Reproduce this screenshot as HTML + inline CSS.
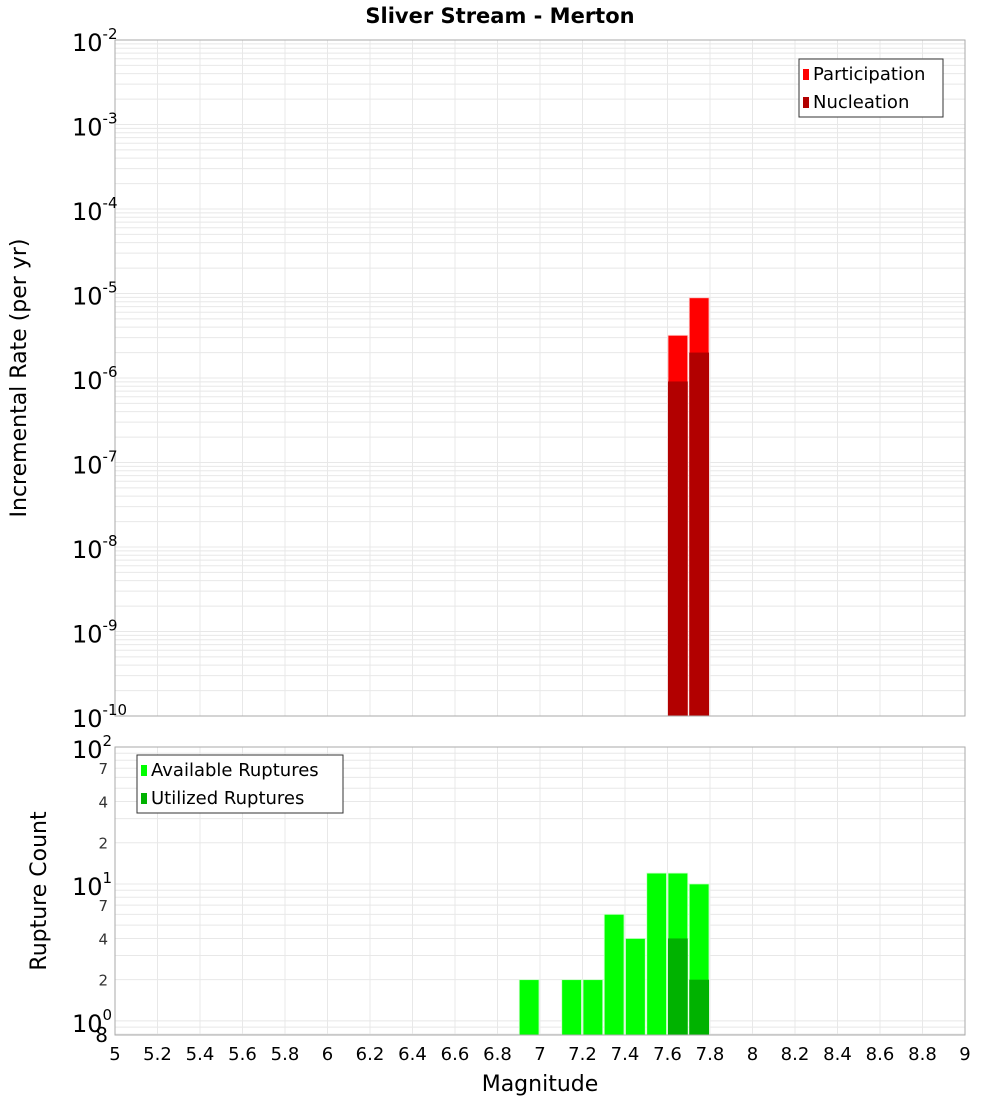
<!DOCTYPE html>
<html><head><meta charset="utf-8"><style>
html,body{margin:0;padding:0;background:#fff;}
svg{display:block;font-family:"DejaVu Sans","Liberation Sans",sans-serif;}
</style></head><body>
<svg id="c" width="1000" height="1100" xmlns="http://www.w3.org/2000/svg"></svg>
<script>
const binStarts = [6.9, 7.0, 7.1, 7.2, 7.3, 7.4, 7.5, 7.6, 7.7];
const availableRuptures = [2, 0, 2, 2, 6, 4, 12, 12, 10];
const utilizedRuptures = [0, 0, 0, 0, 0, 0, 0, 4, 2];
const rateBins = [7.6, 7.7];
const participationRates = [3.2e-6, 8.9e-6];
const nucleationRates = [9.1e-7, 2.0e-6];
const xTicks = [5,5.2,5.4,5.6,5.8,6,6.2,6.4,6.6,6.8,7,7.2,7.4,7.6,7.8,8,8.2,8.4,8.6,8.8,9];
const topExps = [-2,-3,-4,-5,-6,-7,-8,-9,-10];
const botMajor = [2,1,0];
const botMinor = [7,4,2];

const NS="http://www.w3.org/2000/svg";
const svg=document.getElementById('c');
function el(tag,attrs,parent){const e=document.createElementNS(NS,tag);for(const k in attrs)e.setAttribute(k,attrs[k]);(parent||svg).appendChild(e);return e;}
const X0=115,X1=965;
const xs=v=>X0+(v-5)/4*(X1-X0);
const T0=40,T1=716;
const ys1=v=>T0+(-2-Math.log10(v))/8*(T1-T0);
const B0=747,B1=1035;
const bmin=-0.103;
const ys2=v=>B1-(Math.log10(v)-bmin)/(2-bmin)*(B1-B0);

const t=el('text',{x:500,y:23,'text-anchor':'middle','font-size':21,'font-weight':'bold'});
t.textContent='Sliver Stream - Merton';



const gTop=el('g',{});


for(let e=-10;e<-2;e++){for(let m=1;m<10;m++){const y=ys1(m*Math.pow(10,e));el('line',{x1:X0,x2:X1,y1:y,y2:y,stroke:'#e8e8e8','stroke-width':1},gTop);}}
xTicks.forEach(v=>{el('line',{x1:xs(v),x2:xs(v),y1:T0,y2:T1,stroke:'#e8e8e8'},gTop);});
const gBot=el('g',{});


for(let e=-1;e<2;e++){for(let m=1;m<10;m++){const v=m*Math.pow(10,e);const y=ys2(v);if(y>B1||y<B0)continue;el('line',{x1:X0,x2:X1,y1:y,y2:y,stroke:'#e8e8e8'},gBot);}}
xTicks.forEach(v=>{el('line',{x1:xs(v),x2:xs(v),y1:B0,y2:B1,stroke:'#e8e8e8'},gBot);});

const bw=0.1;
rateBins.forEach((b,i)=>{
  const r=el('rect',{x:xs(b)+0.5,y:ys1(participationRates[i]),width:xs(b+bw)-xs(b)-1.5,height:T1-ys1(participationRates[i]),fill:'#ff0000',stroke:'#ffcccc','stroke-width':0.8});
  
  
  const n=el('rect',{x:xs(b)+0.5,y:ys1(nucleationRates[i]),width:xs(b+bw)-xs(b)-1.5,height:T1-ys1(nucleationRates[i]),fill:'#b20000'});
  
  
});
binStarts.forEach((b,i)=>{
  if(availableRuptures[i]>0){
    const r=el('rect',{x:xs(b)+0.5,y:ys2(availableRuptures[i]),width:xs(b+bw)-xs(b)-1.5,height:B1-ys2(availableRuptures[i]),fill:'#00ff00',stroke:'#ccffcc','stroke-width':0.8});
    
    
  }
  if(utilizedRuptures[i]>0){
    const u=el('rect',{x:xs(b)+0.5,y:ys2(utilizedRuptures[i]),width:xs(b+bw)-xs(b)-1.5,height:B1-ys2(utilizedRuptures[i]),fill:'#00b200'});
    
    
  }
});

el('rect',{x:X0,y:T0,width:X1-X0,height:T1-T0,fill:'none',stroke:'#aaa'});
el('rect',{x:X0,y:B0,width:X1-X0,height:B1-B0,fill:'none',stroke:'#aaa'});

topExps.forEach(e=>{
  const y=ys1(Math.pow(10,e));
  const tx=el('text',{x:72,y:y+11,'font-size':24});
  
  
  tx.textContent='10';
  const s=el('tspan',{dy:-12,'font-size':15});
  s.textContent=String(e);
  tx.appendChild(s);
});
botMajor.forEach(e=>{
  const y=ys2(Math.pow(10,e));
  const tx=el('text',{x:72,y:y+11,'font-size':24});
  
  
  tx.textContent='10';
  const s=el('tspan',{dy:-12,'font-size':15});
  s.textContent=String(e);
  tx.appendChild(s);
});
[0,1].forEach(e=>{botMinor.forEach(m=>{
  const y=ys2(m*Math.pow(10,e));
  const tx=el('text',{x:108,y:y+6,'font-size':15,'text-anchor':'end',fill:'#333'});
  
  
  tx.textContent=String(m);
});});
{const tx=el('text',{x:108,y:1042,'font-size':20,'text-anchor':'end'});


tx.textContent='8';}

xTicks.forEach(v=>{
  const tx=el('text',{x:xs(v),y:1060,'font-size':18,'text-anchor':'middle'});
  
  
  tx.textContent=String(v);
});
const xt=el('text',{x:540,y:1091,'font-size':22,'text-anchor':'middle'});


xt.textContent='Magnitude';
const yt=el('text',{x:0,y:0,'font-size':22,'text-anchor':'middle',transform:'translate(26,378) rotate(-90)'});


yt.textContent='Incremental Rate (per yr)';
const yt2=el('text',{x:0,y:0,'font-size':22,'text-anchor':'middle',transform:'translate(46,891) rotate(-90)'});


yt2.textContent='Rupture Count';

function legend(x,y,w,items,name){
  const g=el('g',{});
  
  
  el('rect',{x:x,y:y,width:w,height:58,fill:'#fff',stroke:'#333'},g);
  items.forEach((it,i)=>{
    el('rect',{x:x+4,y:y+10+i*28,width:6,height:11,fill:it[1]},g);
    const tx=el('text',{x:x+14,y:y+21+i*28,'font-size':18},g);
    
    
    tx.textContent=it[0];
  });
}
legend(799,59,144,[['Participation','#ff0000'],['Nucleation','#b20000']],'top-legend');
legend(137,755,206,[['Available Ruptures','#00ff00'],['Utilized Ruptures','#00b200']],'bottom-legend');
</script>
</body></html>
